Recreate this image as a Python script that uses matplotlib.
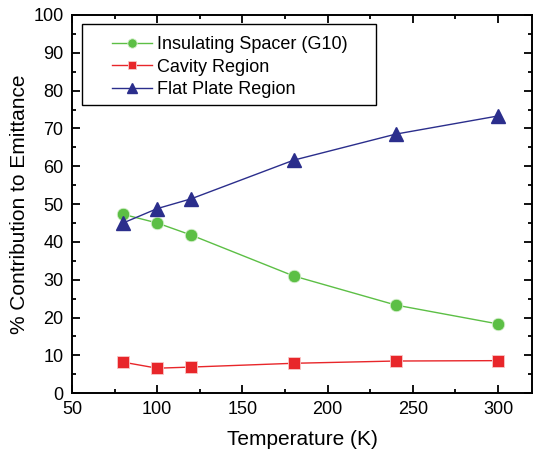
import matplotlib
matplotlib.use("Agg")
import matplotlib.pyplot as plt
from matplotlib.patches import Rectangle
from matplotlib.ticker import MultipleLocator

plt.rcParams['font.family'] = ['Liberation Sans', 'DejaVu Sans']

temperature = [80, 100, 120, 180, 240, 300]
spacer = [47.3, 45.0, 41.8, 31.0, 23.3, 18.3]
cavity = [8.2, 6.6, 6.9, 7.9, 8.5, 8.6]
flat_plate = [45.0, 48.8, 51.4, 61.6, 68.5, 73.3]

fig = plt.figure(figsize=(5.37, 4.54), dpi=100)
ax = fig.add_axes([0.134, 0.134, 0.857, 0.833])

ax.plot(temperature, spacer, color='#5cbf45', marker='o', markersize=9,
        markeredgecolor='#d8f0d0', markeredgewidth=0.6,
        linewidth=1, label='Insulating Spacer (G10)')
ax.plot(temperature, cavity, color='#e8262a', marker='s', markersize=8.5,
        markeredgecolor='#f8c8c8', markeredgewidth=0.6,
        linewidth=1, label='Cavity Region')
ax.plot(temperature, flat_plate, color='#2b2e8c', marker='^', markersize=9.5,
        linewidth=1, label='Flat Plate Region')

ax.set_xlim(50, 320)
ax.set_ylim(0, 100)
ax.xaxis.set_major_locator(MultipleLocator(50))
ax.xaxis.set_minor_locator(MultipleLocator(25))
ax.yaxis.set_major_locator(MultipleLocator(10))
ax.yaxis.set_minor_locator(MultipleLocator(5))
ax.tick_params(which='both', direction='in', top=True, right=True, width=1.3)
ax.tick_params(which='major', length=6, labelsize=13, pad=6)
ax.tick_params(which='minor', length=3)
for s in ax.spines.values():
    s.set_linewidth(1.4)

ax.set_xlabel('Temperature (K)', fontsize=15, labelpad=8)
ax.set_ylabel('% Contribution to Emittance', fontsize=15, labelpad=3)

# legend box drawn separately so it can have wider side padding
ax.add_patch(Rectangle((0.022, 0.762), 0.639, 0.214, transform=ax.transAxes,
                       facecolor='white', edgecolor='black', linewidth=1.0,
                       zorder=4))
leg = ax.legend(loc='upper left', bbox_to_anchor=(0.087, 0.944),
                fontsize=13, frameon=False, borderpad=0, borderaxespad=0,
                handlelength=2.2, handletextpad=0.3, markerscale=0.75,
                labelspacing=0.31)
leg.set_zorder(5)

fig.savefig('out.png', dpi=100)
